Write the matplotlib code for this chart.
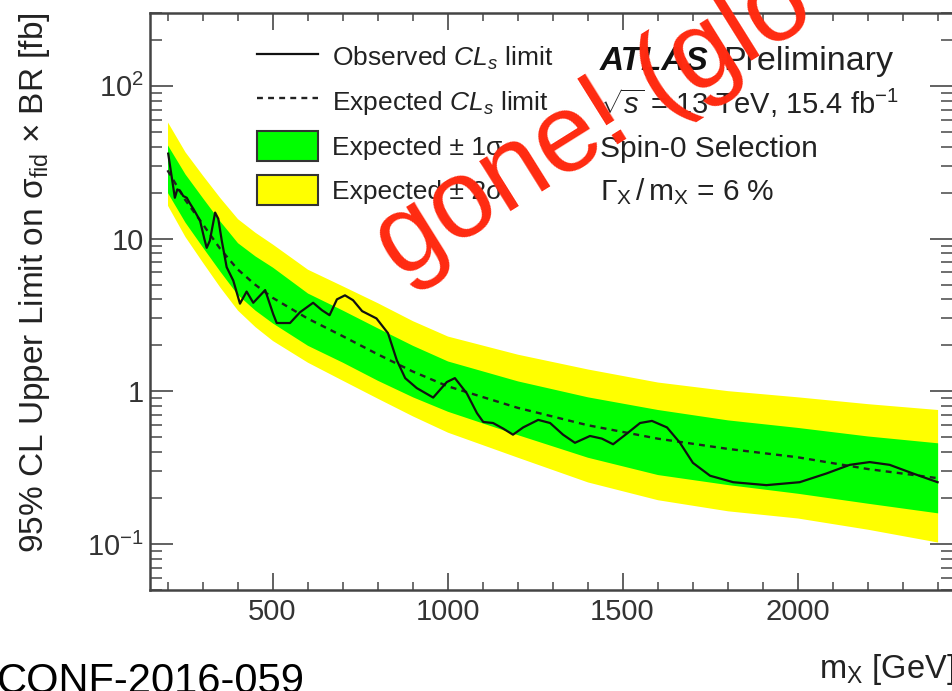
import matplotlib
matplotlib.use("Agg")
import matplotlib.pyplot as plt
from matplotlib.lines import Line2D
from matplotlib.patches import Patch
from matplotlib.ticker import FixedLocator, FixedFormatter, MultipleLocator, LogLocator, NullFormatter

plt.rcParams['font.family'] = ['Liberation Sans', 'DejaVu Sans']
plt.rcParams['mathtext.fontset'] = 'custom'
plt.rcParams['mathtext.rm'] = 'Liberation Sans'
plt.rcParams['mathtext.it'] = 'Liberation Sans:italic'
plt.rcParams['mathtext.bf'] = 'Liberation Sans:bold'

# expected limit with 1 and 2 sigma bands [fb]
mass_exp = [200, 250, 300, 350, 400, 450, 500, 600, 700, 800, 900, 1000, 1200, 1400, 1600, 1800, 2000, 2200, 2400]
exp_med = [28, 18.0, 12.5, 8.6, 6.3, 5.0, 4.1, 3.0, 2.3, 1.75, 1.35, 1.08, 0.78, 0.60, 0.49, 0.42, 0.37, 0.31, 0.27]
exp_p2 = [58, 37, 26, 18.5, 13.5, 11.0, 9.2, 6.3, 4.9, 3.8, 2.9, 2.3, 1.75, 1.40, 1.15, 1.01, 0.92, 0.83, 0.76]
exp_p1 = [41, 26.5, 18.5, 13, 9.4, 7.7, 6.5, 4.4, 3.4, 2.6, 2.0, 1.58, 1.17, 0.92, 0.76, 0.65, 0.58, 0.51, 0.46]
exp_m1 = [20, 12.8, 8.8, 6.1, 4.3, 3.4, 2.8, 2.0, 1.55, 1.18, 0.92, 0.74, 0.52, 0.37, 0.285, 0.245, 0.215, 0.185, 0.16]
exp_m2 = [16.5, 10.3, 7.0, 4.8, 3.4, 2.65, 2.15, 1.55, 1.18, 0.9, 0.69, 0.54, 0.37, 0.255, 0.195, 0.165, 0.148, 0.125, 0.103]

# observed limit [fb]
mass_obs = [202, 221, 228, 236, 245, 255, 264, 275, 293, 305, 312, 321, 330, 336, 345, 355, 369, 388,
            407, 426, 445, 479, 502, 512, 550, 579, 616, 641, 663, 684, 707, 730, 756, 797, 830,
            855, 879, 912, 959, 998, 1021, 1055, 1084, 1102, 1130, 1159, 1187, 1216, 1259, 1293,
            1330, 1364, 1407, 1441, 1473, 1513, 1550, 1584, 1627, 1664, 1701, 1750, 1816, 1911,
            2006, 2083, 2149, 2206, 2263, 2329, 2400]
obs = [36, 18.5, 21, 20.5, 19, 18.5, 17, 15.5, 13.1, 10, 8.7, 9.7, 12.5, 14.8, 13.5, 9.7, 6.5, 5.3,
       3.75, 4.5, 3.8, 4.6, 3.2, 2.8, 2.8, 3.3, 3.8, 3.4, 3.15, 4.0, 4.25, 3.95, 3.35, 3.0, 2.4,
       1.6, 1.22, 1.05, 0.91, 1.15, 1.22, 0.97, 0.72, 0.63, 0.62, 0.57, 0.52, 0.58, 0.65, 0.62,
       0.52, 0.46, 0.51, 0.49, 0.45, 0.53, 0.62, 0.64, 0.58, 0.46, 0.34, 0.28, 0.254, 0.243,
       0.254, 0.29, 0.33, 0.344, 0.33, 0.29, 0.254]

ytick_vals = [0.1, 1, 10, 100]
ytick_labels = [r'$10^{-1}$', '1', '10', r'$10^{2}$']

W, H = 952, 691


def fx(px):
    return px / W


def fy(py):
    return 1 - py / H


fig = plt.figure(figsize=(W / 100, H / 100), dpi=100)
ax = fig.add_axes([fx(150), fy(590), 803 / W, 577 / H])

ax.fill_between(mass_exp, exp_m2, exp_p2, color='#ffff00', lw=0)
ax.fill_between(mass_exp, exp_m1, exp_p1, color='#00ff00', lw=0)
ax.plot(mass_exp, exp_med, color='#222222', lw=1.7, ls=(0, (2.5, 2.2)))
ax.plot(mass_obs, obs, color='#111111', lw=1.6)

ax.set_yscale('log')
ax.set_xlim(150, 2444)
ax.set_ylim(0.05, 300)

ax.xaxis.set_major_locator(MultipleLocator(500))
ax.xaxis.set_minor_locator(MultipleLocator(100))
ax.yaxis.set_major_locator(FixedLocator(ytick_vals))
ax.yaxis.set_major_formatter(FixedFormatter(ytick_labels))
ax.yaxis.set_minor_locator(LogLocator(base=10, subs=range(2, 10)))
ax.yaxis.set_minor_formatter(NullFormatter())

for s in ax.spines.values():
    s.set_color('#444444')
    s.set_linewidth(1.8)

ax.tick_params(axis='x', which='major', direction='in', length=12, width=1.3, top=True,
               pad=6, labelsize=21, color='#555555', labelcolor='#333333')
ax.tick_params(axis='x', which='minor', direction='in', length=6, width=1.2, top=True, color='#555555')
ax.tick_params(axis='y', which='major', direction='in', length=16.5, width=1.3, right=True,
               pad=4.5, labelsize=21, color='#555555', labelcolor='#333333')
ax.tick_params(axis='y', which='minor', direction='in', length=8.5, width=1.2, right=True, color='#555555')

# legend
handles = [Line2D([], [], color='#111111', lw=1.6),
           Line2D([], [], color='#222222', lw=1.7, ls=(0, (2.5, 2.2))),
           Patch(fc='#00ff00', ec='#333333', lw=1.5),
           Patch(fc='#ffff00', ec='#333333', lw=1.5)]
labels = [r'Observed $CL_s$ limit', r'Expected $CL_s$ limit', 'Expected ± 1σ', 'Expected ± 2σ']
leg = ax.legend(handles, labels, loc='upper left', bbox_to_anchor=(0.1333, 0.950), frameon=False,
                fontsize=19, handlelength=2.31, handleheight=1.35, handletextpad=0.53,
                labelspacing=0.55, borderpad=0, borderaxespad=0)
for t in leg.get_texts():
    t.set_color('#222222')

# labels
fig.text(fx(35), fy(12), '95% CL Upper Limit on σ$_{\\rm fid}$ × BR [fb]', rotation=90,
         ha='center', va='top', fontsize=24, color='#222222')
fig.text(fx(955), fy(678), r'm$_{\rm X}$ [GeV]', ha='right', va='baseline', fontsize=23.5, color='#222222')

fig.text(fx(600), fy(70), 'ATLAS', fontsize=24, fontweight='bold', fontstyle='italic',
         va='baseline', color='#111111')
fig.text(fx(723), fy(70), 'Preliminary', fontsize=24.5, va='baseline', color='#222222')
fig.text(fx(600), fy(114), r'$\sqrt{s}$ = 13 TeV, 15.4 fb$^{-1}$', fontsize=21, va='baseline', color='#222222')
fig.text(fx(600), fy(157), 'Spin-0 Selection', fontsize=21.5, va='baseline', color='#222222')
fig.text(fx(600), fy(200), r'$\Gamma_{\rm X}\,/\,{\rm m}_{\rm X}$ = 6 %', fontsize=21.5, va='baseline', color='#222222')

fig.text(fx(-3), fy(693), 'CONF-2016-059', fontsize=30, va='baseline', color='black')

fig.text(fx(400), fy(280), 'gone! (glo', rotation=32, rotation_mode='anchor', ha='left',
         va='baseline', fontsize=80, color='#ff2a10')

fig.savefig('out.png', dpi=100)
